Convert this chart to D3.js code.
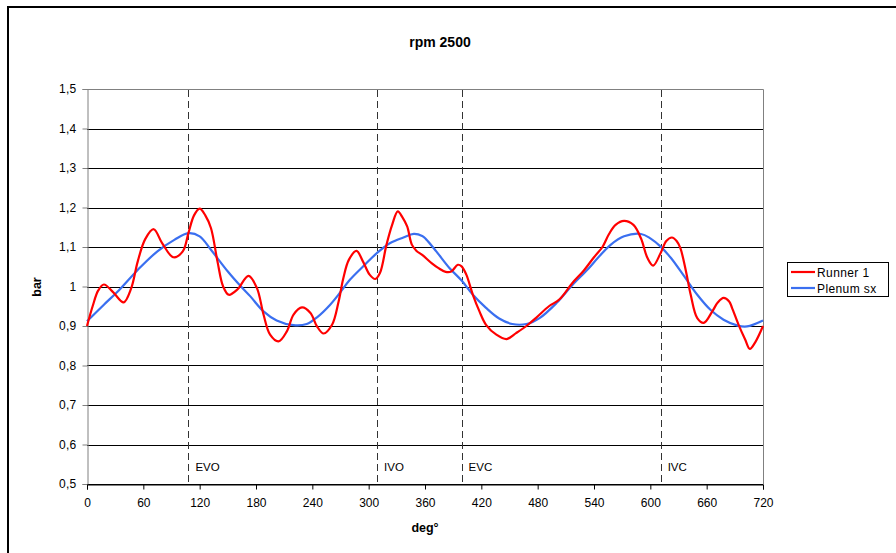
<!DOCTYPE html>
<html><head><meta charset="utf-8">
<script src="https://cdn.jsdelivr.net/npm/d3@7"></script>
<style>body{margin:0;background:#fff}svg{display:block}text{font-family:"Liberation Sans",Arial,sans-serif}</style>
</head><body><svg id="c" width="896" height="553"></svg>
<script>
const title = "rpm 2500";
const xLabel = "deg°";
const yLabel = "bar";
const xTicks = [0,60,120,180,240,300,360,420,480,540,600,660,720];
const yTicks = [0.5,0.6,0.7,0.8,0.9,1.0,1.1,1.2,1.3,1.4,1.5];
const events = [{name:"EVO",deg:108},{name:"IVO",deg:309},{name:"EVC",deg:399},{name:"IVC",deg:611}];
const seriesNames = ["Runner 1","Plenum sx"];
const runnerDeg = [0,6,12,18,28,39,47,54,62,71,80,92,102,108,114,120,126,132,139,145,151,160,172,181,188,195,204,213,220,229,238,245,252,261,268,273,279,287,294,301,307,312,319,325,331,336,341,346,351,357,367,374,382,388,395,399,404,411,418,425,436,447,457,468,478,492,503,517,529,540,549,556,563,572,582,590,597,603,611,617,623,628,632,638,643,650,657,666,672,678,684,687,694,701,706,712,720];
const runnerVal = [0.90,0.95,0.99,1.005,0.985,0.96,0.995,1.063,1.12,1.145,1.11,1.074,1.089,1.135,1.18,1.197,1.18,1.148,1.063,1.0,0.979,0.992,1.027,0.996,0.929,0.878,0.861,0.887,0.929,0.947,0.933,0.899,0.881,0.903,0.962,1.021,1.068,1.09,1.063,1.03,1.019,1.034,1.106,1.156,1.19,1.175,1.152,1.106,1.09,1.08,1.059,1.047,1.037,1.038,1.055,1.051,1.03,0.979,0.937,0.903,0.878,0.867,0.882,0.90,0.92,0.95,0.967,1.009,1.04,1.074,1.10,1.133,1.156,1.166,1.156,1.122,1.072,1.053,1.085,1.115,1.124,1.115,1.097,1.038,0.979,0.92,0.908,0.937,0.96,0.971,0.962,0.946,0.903,0.866,0.842,0.86,0.90];
const plenumDeg = [0,18,33,54,75,93,108,120,132,150,164,174,188,202,220,234,245,259,270,280,295,309,323,337,348,357,361,372,386,399,411,425,439,453,468,482,500,517,534,544,558,572,590,600,611,622,636,650,664,678,693,703,720];
const plenumVal = [0.912,0.954,0.988,1.042,1.089,1.118,1.135,1.127,1.093,1.038,1.0,0.975,0.937,0.914,0.902,0.905,0.922,0.954,0.986,1.017,1.053,1.085,1.11,1.124,1.133,1.128,1.12,1.089,1.047,1.015,0.979,0.946,0.919,0.905,0.905,0.92,0.958,1.004,1.045,1.072,1.106,1.127,1.133,1.122,1.101,1.072,1.026,0.979,0.941,0.916,0.901,0.899,0.914];

const svg = d3.select("#c");
const L=87, R=763, T=89, B=484;
const x = d3.scaleLinear().domain([0,720]).range([L,R]);
const y = d3.scaleLinear().domain([0.5,1.5]).range([B,T]);
const fmt = v => (Math.abs(v-1)<1e-9 ? "1" : d3.format(".1f")(v).replace(".",","));

// outer frame
svg.append("rect").attr("x",8).attr("y",7).attr("width",900).attr("height",560)
  .attr("fill","none").attr("stroke","#000").attr("stroke-width",2);

// gridlines
svg.append("g").selectAll("line").data(yTicks.filter(v=>v<1.45)).join("line")
  .attr("x1",L).attr("x2",R).attr("y1",d=>Math.round(y(d))+0.5).attr("y2",d=>Math.round(y(d))+0.5)
  .attr("stroke","#000").attr("stroke-width",1);
// plot border (top/right gray)
svg.append("path").attr("d",`M${L},${T+0.5}H${R+0.5}V${B}`).attr("fill","none").attr("stroke","#808080");

// axes
const yAxis = svg.append("g").attr("transform",`translate(${L+0.5},0)`)
  .call(d3.axisLeft(y).tickValues(yTicks).tickFormat(fmt).tickSize(5).tickPadding(6));
yAxis.select(".domain").attr("stroke","#808080");
yAxis.selectAll(".tick line").attr("stroke","#808080");
yAxis.selectAll("text").attr("font-size",12).attr("fill","#000").attr("letter-spacing",0.3)
  .attr("font-family","Liberation Sans, Arial, sans-serif");
const xAxis = svg.append("g").attr("transform",`translate(0,${B+0.5})`)
  .call(d3.axisBottom(x).tickValues(xTicks).tickSize(5).tickPadding(9));
xAxis.select(".domain").attr("stroke","#000");
xAxis.selectAll(".tick line").attr("stroke","#000");
xAxis.selectAll("text").attr("font-size",12).attr("fill","#000")
  .attr("font-family","Liberation Sans, Arial, sans-serif");

// event dashed lines
const ev = svg.append("g");
ev.selectAll("line").data(events).join("line")
  .attr("x1",d=>Math.round(x(d.deg))+0.5).attr("x2",d=>Math.round(x(d.deg))+0.5)
  .attr("y1",T+1).attr("y2",B).attr("stroke","#333").attr("stroke-dasharray","7,4");
ev.selectAll("text").data(events).join("text")
  .attr("x",d=>x(d.deg)+7).attr("y",471).attr("font-size",11.5).attr("fill","#000")
  .text(d=>d.name);

// lines
const line = d3.line().x(d=>x(d[0])).y(d=>y(d[1])).curve(d3.curveCatmullRom.alpha(0.5));
const runner = runnerDeg.map((d,i)=>[d,runnerVal[i]]);
const plenum = plenumDeg.map((d,i)=>[d,plenumVal[i]]);
svg.append("path").datum(plenum).attr("d",line).attr("fill","none").attr("stroke","#3a6ff0").attr("stroke-width",2.2);
svg.append("path").datum(runner).attr("d",line).attr("fill","none").attr("stroke","#ff0000").attr("stroke-width",2.2);

// titles
svg.append("text").attr("x",440).attr("y",47).attr("text-anchor","middle")
  .attr("font-size",14).attr("font-weight","bold").text(title);
svg.append("text").attr("transform","translate(41,287) rotate(-90)").attr("text-anchor","middle")
  .attr("font-size",12.5).attr("font-weight","bold").text(yLabel);
svg.append("text").attr("x",425).attr("y",532).attr("text-anchor","middle")
  .attr("font-size",12.5).attr("font-weight","bold").text(xLabel);

// legend
const lg = svg.append("g");
lg.append("rect").attr("x",787.5).attr("y",262.5).attr("width",101).attr("height",34)
  .attr("fill","#fff").attr("stroke","#000");
const colors = ["#ff0000","#3a6ff0"];
seriesNames.forEach((n,i)=>{
  const yy = 272 + i*16;
  lg.append("line").attr("x1",791).attr("x2",815).attr("y1",yy).attr("y2",yy)
    .attr("stroke",colors[i]).attr("stroke-width",2.2);
  lg.append("text").attr("x",817).attr("y",yy+4.5).attr("font-size",12).attr("letter-spacing",0.4).text(n);
});
</script></body></html>
